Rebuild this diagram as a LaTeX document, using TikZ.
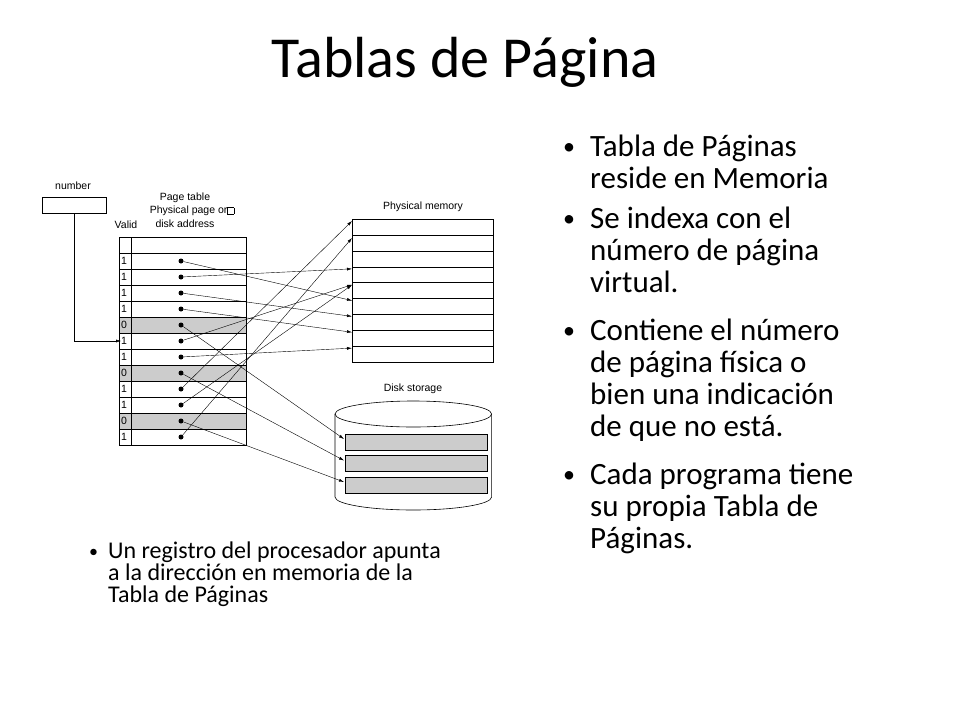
\documentclass[tikz,border=0pt]{standalone}
\usepackage{fontspec}
\setmainfont{Carlito}
\newfontfamily\arialfont{Liberation Sans}
\usetikzlibrary{arrows.meta,shapes.geometric}
\tikzset{
  small/.style={font=\arialfont\fontsize{10.5}{11}\selectfont, inner sep=0pt},
  cell/.style={draw, line width=0.6pt},
  ptr/.style={-{Latex[length=5pt,width=3pt]}, line width=0.4pt},
  dot/.style={circle, fill, inner sep=0pt, minimum size=5pt},
  bigline/.style={font=\fontsize{31}{32}\selectfont, anchor=base west, inner sep=0pt},
  bigdot/.style={font=\fontsize{24}{32}\selectfont, anchor=base west, inner sep=0pt},
  noteline/.style={font=\fontsize{24}{22}\selectfont, anchor=base west, inner sep=0pt}
}
\newcommand{\tinybox}{\setlength{\fboxsep}{0pt}\setlength{\fboxrule}{0.4pt}\fbox{\rule{0pt}{6pt}\hspace{6pt}}}
\begin{document}
\begin{tikzpicture}[x=1pt,y=-1pt]
\useasboundingbox (0,0) rectangle (960,720);
\node[font=\fontsize{58}{60}\selectfont] (title) at (465,62) {Tablas de Página};
% register
\node[small, anchor=south] (numlbl) at (73,190) {number};
\node[cell, minimum width=64pt, minimum height=16pt, anchor=north west, inner sep=0pt] (reg) at (42,197) {};
% page table
\node[small] (ptlbl) at (185,198) {Page table};
\node[small] (pplbl) at (192,211) {Physical page or\tinybox};
\node[small] (dalbl) at (185,224) {disk address};
\node[small] (vlbl) at (126,225) {Valid};
\draw[cell] (119,237) rectangle (131,253);
\draw[cell] (131,237) rectangle (246,253);
\foreach \v [count=\i] in {1,1,1,1,0,1,1,0,1,1,0,1} {
  \pgfmathsetmacro{\yt}{253+16*(\i-1)}
  \ifnum\v=0
    \fill[gray!40] (119,\yt) rectangle (246,\yt+16);
  \fi
  \draw[cell] (119,\yt) rectangle (131,\yt+16);
  \draw[cell] (131,\yt) rectangle (246,\yt+16);
  \node[small, anchor=west] (v\i) at (121,\yt+8) {\v};
  \node[dot] (d\i) at (181,\yt+8) {};
}
% physical memory
\node[small] (pmlbl) at (423,207) {Physical memory};
\foreach \j in {1,...,9} {
  \pgfmathsetmacro{\yt}{219.3+15.85*(\j-1)}
  \draw[cell] (352,\yt) rectangle (493,\yt+15.85);
  \coordinate (m\j) at (352,\yt+2);
}
% disk storage
\node[small] (dslbl) at (413,389) {Disk storage};
\draw[cell] (335,414) -- (335,497) arc[start angle=180, end angle=360, x radius=78.3pt, y radius=13pt] -- (491.6,414);
\draw[cell] (413.3,414) ellipse[x radius=78.3pt, y radius=13pt];
\foreach \k in {1,2,3} {
  \pgfmathsetmacro{\yt}{434+21.5*(\k-1)}
  \draw[cell, fill=gray!40] (345,\yt) rectangle (487,\yt+16);
  \coordinate (s\k) at (344,\yt+5);
}
% register to table
\draw[ptr] (reg.south) |- (v6.west);
% pointers
\draw[ptr] (d1) -- (m6);
\draw[ptr] (d2) -- (m4);
\draw[ptr] (d3) -- (m7);
\draw[ptr] (d4) -- (m8);
\draw[ptr] (d5) -- (s1);
\draw[ptr] (d6) -- (m5);
\draw[ptr] (d7) -- (m9);
\draw[ptr] (d8) -- (s2);
\draw[ptr] (d9) -- (352,221);
\draw[ptr] (d10) -- (m6 |- 0,285);
\draw[ptr] (d11) -- (s3);
\draw[ptr] (d12) -- (m2 |- 0,238);
% bullets
\foreach \y in {156,228,340,484}
  \node[bigdot] (dot\y) at (563,\y-2) {\textbullet};
\foreach \txt [count=\n] in {Tabla de Páginas, reside en Memoria}
  \node[bigline] (ta\n) at (590,156+32*\n-32) {\txt};
\foreach \txt [count=\n] in {Se indexa con el, número de página, virtual.}
  \node[bigline] (tb\n) at (590,228+32*\n-32) {\txt};
\foreach \txt [count=\n] in {Contiene el número, de página física o, bien una indicación, de que no está.}
  \node[bigline] (tc\n) at (590,340+32*\n-32) {\txt};
\foreach \txt [count=\n] in {Cada programa tiene, su propia Tabla de, Páginas.}
  \node[bigline] (td\n) at (590,484+32*\n-32) {\txt};
\node[noteline, font=\fontsize{18}{22}\selectfont] (notedot) at (89,557) {\textbullet};
\foreach \txt [count=\n] in {Un registro del procesador apunta, a la dirección en memoria de la, Tabla de Páginas}
  \node[noteline] (tn\n) at (108,558+22*\n-22) {\txt};
\end{tikzpicture}
\end{document}
